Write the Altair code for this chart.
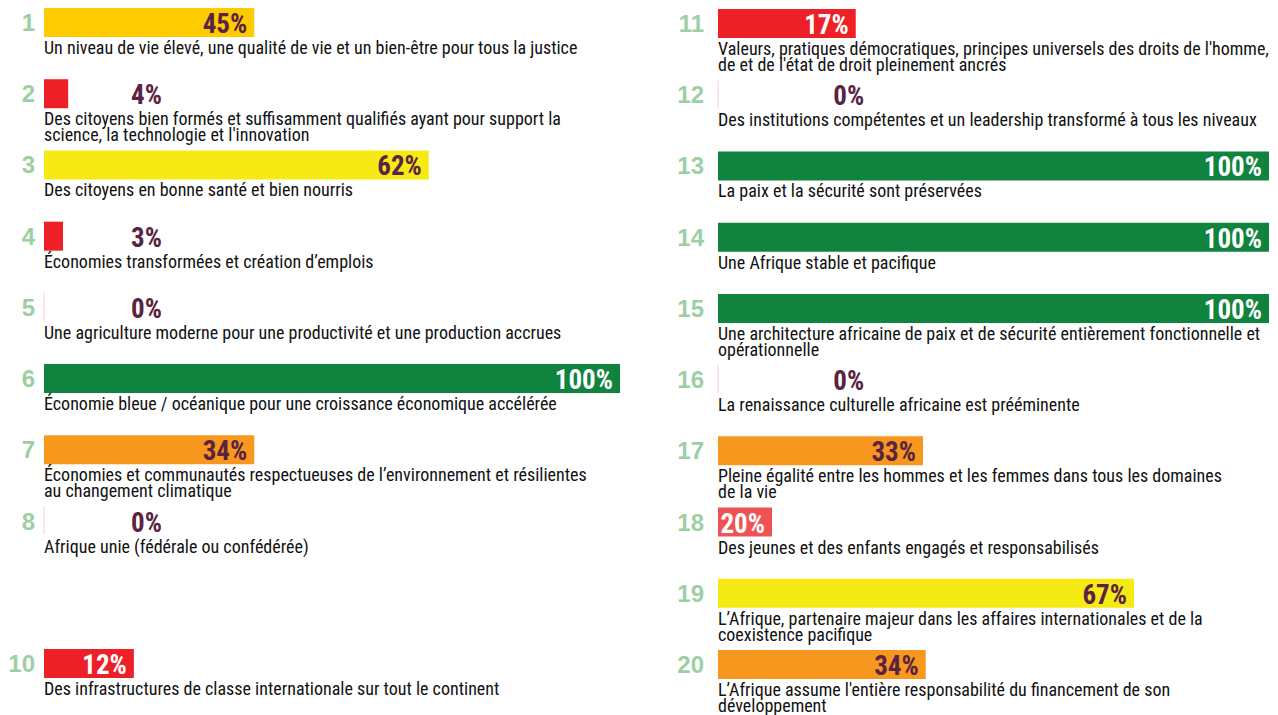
import altair as alt
import pandas as pd

# ---- data ----
left_goals = [1, 2, 3, 4, 5, 6, 7, 8, 10]
left_values = [45, 4, 62, 3, 0, 100, 34, 0, 12]
# drawn bar extent (as % of the full 100% bar)
left_extent = [36.5, 4.2, 66.8, 3.3, 0, 100, 36.5, 0, 15.6]
left_desc = [
    "Un niveau de vie élevé, une qualité de vie et un bien-être pour tous la justice",
    "Des citoyens bien formés et suffisamment qualifiés ayant pour support la\nscience, la technologie et l'innovation",
    "Des citoyens en bonne santé et bien nourris",
    "Économies transformées et création d’emplois",
    "Une agriculture moderne pour une productivité et une production accrues",
    "Économie bleue / océanique pour une croissance économique accélérée",
    "Économies et communautés respectueuses de l’environnement et résilientes\nau changement climatique",
    "Afrique unie (fédérale ou confédérée)",
    "Des infrastructures de classe internationale sur tout le continent",
]

right_goals = [11, 12, 13, 14, 15, 16, 17, 18, 19, 20]
right_values = [17, 0, 100, 100, 100, 0, 33, 20, 67, 34]
right_extent = [25.0, 0, 100, 100, 100, 0, 37.2, 9.8, 75.5, 37.7]
right_desc = [
    "Valeurs, pratiques démocratiques, principes universels des droits de l'homme,\nde et de l'état de droit pleinement ancrés",
    "Des institutions compétentes et un leadership transformé à tous les niveaux",
    "La paix et la sécurité sont préservées",
    "Une Afrique stable et pacifique",
    "Une architecture africaine de paix et de sécurité entièrement fonctionnelle et\nopérationnelle",
    "La renaissance culturelle africaine est prééminente",
    "Pleine égalité entre les hommes et les femmes dans tous les domaines\nde la vie",
    "Des jeunes et des enfants engagés et responsabilisés",
    "L’Afrique, partenaire majeur dans les affaires internationales et de la\ncoexistence pacifique",
    "L’Afrique  assume l'entière responsabilité du financement de son\ndéveloppement",
]

# ---- styles ----
THRESH = [18, 25, 40, 55, 80]
BAR_COLORS = ["#ee2027", "#ef5252", "#f7971e", "#fecb00", "#f5ea14", "#10833f"]
MAROON = "#5a2341"
NUM_GREEN = "#9dcfa5"
NARROW = "Liberation Sans Narrow, Roboto Condensed, DejaVu Sans Condensed, sans-serif"
BOLD = "Liberation Sans, Arial, sans-serif"


def make_df(goals, values, extent, desc):
    return pd.DataFrame({
        "goal": [str(g) for g in goals],
        "num": goals,
        "value": values,
        "extent": extent,
        "pct": [f"{v}%" for v in values],
        "desc": desc,
    })


def panel(df, width, num_gap, small_label_x, shift):
    base = alt.Chart(df).transform_calculate(
        row="datum.num > 10 ? datum.num - 10 : datum.num",
        start="0",
        label_x=f"datum.extent < 8 ? {small_label_x} : datum.extent",
        lab_color="(datum.extent >= 8 && (datum.value >= 80 || datum.value < 25)) ? '#ffffff' : '" + MAROON + "'",
    )
    xs = alt.Scale(domain=[0, 100])
    ys = alt.Scale(domain=[1, 10], reverse=True)
    X = lambda f: alt.X(f, scale=xs, axis=None)
    Y = alt.Y("row:Q", scale=ys, axis=None)

    bars = base.mark_rect(yOffset=shift, y2Offset=29 + shift).encode(
        x=X("start:Q"), x2="extent:Q", y=Y, y2="row:Q",
        color=alt.Color("value:Q", scale=alt.Scale(type="threshold", domain=THRESH, range=BAR_COLORS), legend=None),
    ).transform_filter("datum.extent > 0")

    zero = base.mark_rule(color="#f7d0d0", strokeWidth=1, yOffset=shift, y2Offset=28 + shift).encode(
        x=X("start:Q"), y=Y, y2="row:Q",
    ).transform_filter("datum.extent == 0")

    nums = base.mark_text(align="right", baseline="alphabetic", dx=-num_gap, dy=23 + shift,
                          font=BOLD, fontWeight="bold", fontSize=24, color=NUM_GREEN).encode(
        x=X("start:Q"), y=Y, text="goal:N")

    labels = base.mark_text(align="right", baseline="alphabetic", dx=-7, dy=25 + shift,
                            font=NARROW, fontWeight="bold", fontSize=27).encode(
        x=X("label_x:Q"), y=Y, text="pct:N",
        color=alt.Color("lab_color:N", scale=None))

    desc = base.mark_text(align="left", baseline="top", dy=32 + shift, lineBreak="\n", lineHeight=16,
                          font=NARROW, fontSize=18, color="#111111").encode(
        x=X("start:Q"), y=Y, text="desc:N")

    return alt.layer(bars, zero, nums, labels, desc).properties(width=width, height=641)


left = panel(make_df(left_goals, left_values, left_extent, left_desc), 576, 9, 21.7, 0)
right = panel(make_df(right_goals, right_values, right_extent, right_desc), 551, 14, 27.8, 1)

chart = alt.hconcat(left, right, spacing=57).properties(padding=0).configure_view(stroke=None)

chart.save("out.html", embed_options={"renderer": "svg", "actions": False})
